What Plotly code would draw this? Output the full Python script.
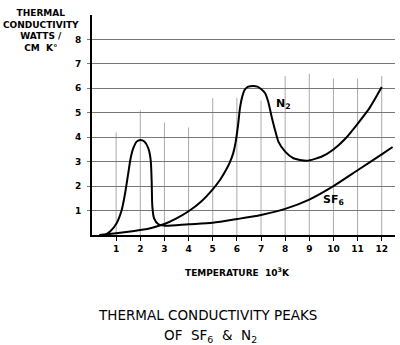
import plotly.graph_objects as go

# N2 thermal conductivity (T in 10^3 K, W/cm K)
n2_t = [0.3, 0.6, 1.0, 1.5, 2.0, 2.5, 3.0, 3.5, 4.0, 4.5, 5.0, 5.3, 5.6, 5.7, 5.85, 5.95, 6.05, 6.13,
        6.22, 6.32, 6.45, 6.68, 6.85, 7.0, 7.17, 7.3, 7.44, 7.58, 7.72, 8.0, 8.34, 8.9, 9.5, 10.0,
        10.5, 11.0, 11.5, 12.0]
n2_k = [0.0, 0.03, 0.07, 0.13, 0.2, 0.3, 0.45, 0.68, 0.97, 1.35, 1.87, 2.25, 2.75, 2.95, 3.35, 3.8, 4.5, 5.2,
        5.65, 5.93, 6.06, 6.1, 6.07, 5.97, 5.8, 5.45, 4.84, 4.3, 3.82, 3.41, 3.14, 3.04, 3.2, 3.5,
        3.95, 4.55, 5.2, 6.05]

# SF6 thermal conductivity
sf6_t = [0.54, 0.75, 1.02, 1.23, 1.37, 1.5, 1.6, 1.71, 1.85, 2.0, 2.17, 2.33, 2.43, 2.47, 2.5,
         2.57, 2.75, 3.02, 4.0, 5.0, 6.0, 7.0, 8.0, 9.0, 10.0, 11.0, 12.0, 12.45]
sf6_k = [0.0, 0.14, 0.48, 1.02, 1.7, 2.52, 3.14, 3.55, 3.82, 3.89, 3.82, 3.55, 3.07, 2.25, 1.16,
         0.68, 0.44, 0.38, 0.44, 0.5, 0.65, 0.82, 1.07, 1.45, 2.0, 2.65, 3.3, 3.6]

x_ticks = list(range(1, 13))
y_ticks = list(range(1, 9))
vgrid_tops = [4.2, 5.1, 4.6, 4.4, 5.6, 5.6, 5.5, 6.5, 6.6, 6.4, 6.4, 6.5]

# plot-area pixel geometry (for placing free text)
L, R, T, B = 92, 395, 15, 235
def px(x):
    return (x - L) / (R - L)
def py(y):
    return (B - y) / (B - T)

font_t = "DejaVu Sans"

fig = go.Figure()
fig.add_trace(go.Scatter(x=n2_t, y=n2_k, mode="lines",
                         line=dict(color="black", width=2, shape="spline", smoothing=0.6),
                         hoverinfo="skip", showlegend=False))
fig.add_trace(go.Scatter(x=sf6_t, y=sf6_k, mode="lines",
                         line=dict(color="black", width=2, shape="spline", smoothing=0.7),
                         hoverinfo="skip", showlegend=False))

for xv, top in zip(x_ticks, vgrid_tops):
    fig.add_shape(type="line", x0=xv, x1=xv, y0=0, y1=top, xref="x", yref="y",
                  line=dict(color="#aaaaaa", width=1), layer="below")

# curve labels
fig.add_annotation(x=px(283), y=py(104), xref="paper", yref="paper", text="N<sub>2</sub>",
                   showarrow=False, font=dict(family=font_t, size=11, color="black", weight="bold"),
                   xanchor="center", yanchor="middle")
fig.add_annotation(x=px(333), y=py(200), xref="paper", yref="paper", text="SF<sub>6</sub>",
                   showarrow=False, font=dict(family=font_t, size=11, color="black", weight="bold"),
                   xanchor="center", yanchor="middle")

# y-axis title (top-left block)
fig.add_annotation(x=px(41), y=py(6), xref="paper", yref="paper", xanchor="center", yanchor="top",
                   text="THERMAL<br>CONDUCTIVITY<br>WATTS /<br>CM  K°", showarrow=False,
                   font=dict(family=font_t, size=9, color="black", weight="bold"), align="center")

# x-axis title
fig.add_annotation(x=px(237), y=py(272), xref="paper", yref="paper", xanchor="center", yanchor="middle",
                   text="TEMPERATURE  10<sup>3</sup>K", showarrow=False,
                   font=dict(family=font_t, size=9, color="black", weight="bold"))

# main caption
fig.add_annotation(x=px(207), y=py(315), xref="paper", yref="paper", xanchor="center", yanchor="middle",
                   text="THERMAL CONDUCTIVITY PEAKS", showarrow=False,
                   font=dict(family=font_t, size=13.5, color="black"))
fig.add_annotation(x=px(210), y=py(336), xref="paper", yref="paper", xanchor="center", yanchor="middle",
                   text="OF  SF<sub>6</sub>  &  N<sub>2</sub>", showarrow=False,
                   font=dict(family=font_t, size=13.5, color="black"))

fig.update_layout(
    width=400, height=345,
    margin=dict(l=L, r=400 - R, t=T, b=345 - B),
    paper_bgcolor="white", plot_bgcolor="white",
    font=dict(family=font_t, size=9, color="black"),
    xaxis=dict(range=[0, 12.55], tickvals=x_ticks, ticktext=[str(v) for v in x_ticks],
               showgrid=False, zeroline=False, showline=True, linecolor="black", linewidth=2,
               ticks="outside", ticklen=4, tickcolor="black",
               tickfont=dict(size=9, weight="bold")),
    yaxis=dict(range=[0, 9.0], tickvals=y_ticks, ticktext=[str(v) for v in y_ticks],
               showgrid=True, gridcolor="#777777", gridwidth=1.2, zeroline=False,
               showline=True, linecolor="black", linewidth=2,
               ticks="outside", ticklen=3, tickcolor="#777777",
               tickfont=dict(size=9, weight="bold"), ticklabelstandoff=4),
)

fig.write_html("out.html")
